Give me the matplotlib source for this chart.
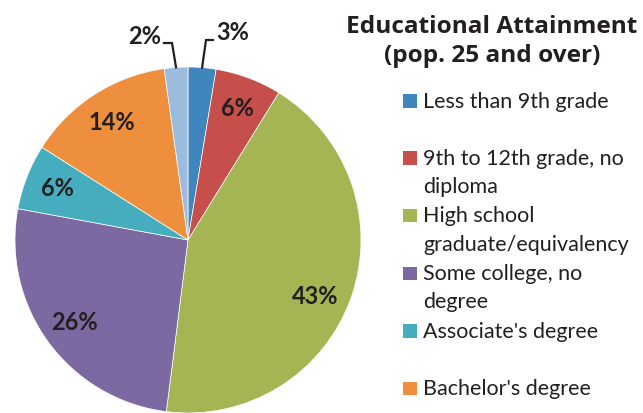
import matplotlib
matplotlib.use("Agg")
import matplotlib.pyplot as plt
from matplotlib.patches import Rectangle
import numpy as np

categories = ["Less than 9th grade", "9th to 12th grade, no\ndiploma",
              "High school\ngraduate/equivalency", "Some college, no\ndegree",
              "Associate's degree", "Bachelor's degree",
              "Graduate or professional\ndegree"]
values = [2.6, 6.2, 43.2, 25.9, 6.1, 13.8, 2.2]
colors = ["#3f86bf", "#c64e4b", "#a6b553", "#7c69a1", "#46adbf", "#ee8f3e", "#9cbbdd"]
title_lines = ["Educational Attainment", "(pop. 25 and over)"]

W, H = 643, 413
fig = plt.figure(figsize=(W / 100, H / 100), dpi=100)
fig.patch.set_facecolor("white")

cx, cy, r = 188, 240, 173
ax = fig.add_axes([(cx - r) / W, (H - cy - r) / H, 2 * r / W, 2 * r / H])
ax.axis("off")

txtc = "#231f20"
lab_font = dict(fontfamily="Lato", fontweight="bold", fontsize=17, color=txtc)
wedges, texts, autotexts = ax.pie(
    values, colors=colors, startangle=90, counterclock=False,
    autopct=lambda p: f"{p:.0f}%", pctdistance=0.81,
    wedgeprops=dict(edgecolor="white", linewidth=0.5),
    textprops=lab_font, radius=1, center=(0, 0), frame=False)
ax.set_xlim(-1, 1)
ax.set_ylim(-1, 1)

def to_data(px, py):
    return (px - cx) / r, (cy - py) / r

# Excel nudges the big label slightly lower
autotexts[2].set_position(to_data(315, 297))

# small slices: outside labels with leader lines
small = {0: ((233, 33), (206, 40), (213, 40)), 6: ((145, 37), (172, 43), (164, 43))}
for idx, (lab_px, elbow_px, end_px) in small.items():
    autotexts[idx].set_visible(False)
    w = wedges[idx]
    ang = np.deg2rad((w.theta1 + w.theta2) / 2)
    x0, y0 = np.cos(ang), np.sin(ang)
    ex, ey = to_data(*elbow_px)
    tx, ty = to_data(*end_px)
    ax.plot([x0, ex, tx], [y0, ey, ey], color=txtc, lw=1.6, clip_on=False,
            solid_joinstyle="miter")
    lx, ly = to_data(*lab_px)
    ax.text(lx, ly, autotexts[idx].get_text(), ha="center", va="center",
            clip_on=False, **lab_font)

# title
for k, yb in enumerate([33, 62]):
    fig.text(492 / W, 1 - yb / H, title_lines[k], ha="center", va="baseline",
             fontfamily="Open Sans", fontweight="bold", fontsize=17.6, color=txtc)

# legend (manual, Excel-like layout); entries below the canvas are not shown
for i, (lab, col) in enumerate(zip(categories, colors)):
    yb = 107.5 + i * 57.5
    if yb > H:
        continue
    fig.patches.append(Rectangle((403 / W, 1 - yb / H), 13.5 / W, 13.5 / H,
                                 transform=fig.transFigure, facecolor=col,
                                 edgecolor="none"))
    for j, line in enumerate(lab.split("\n")):
        fig.text(423 / W, 1 - (yb + j * 28.3) / H, line, ha="left", va="baseline",
                 fontfamily="Lato", fontsize=15.5, color=txtc)

fig.savefig("out.png", dpi=100)
